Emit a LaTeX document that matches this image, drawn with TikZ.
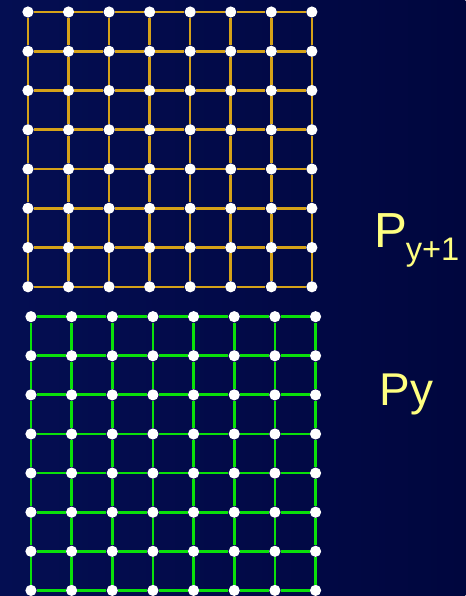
\documentclass[tikz,border=0pt]{standalone}
\usepackage{fontspec}
\setmainfont{Liberation Sans}
\definecolor{navyleft}{RGB}{4,14,82}
\definecolor{navyright}{RGB}{0,6,62}
\definecolor{gridgold}{RGB}{214,162,24}
\definecolor{gridgreen}{RGB}{10,225,10}
\definecolor{labelyellow}{RGB}{255,255,128}
\tikzset{
  dot/.style={circle,fill=white,inner sep=0pt,minimum size=8.4pt},
  goldline/.style={draw=gridgold,line width=1.9pt},
  greenline/.style={draw=gridgreen,line width=2.1pt},
  lbl/.style={text=labelyellow,inner sep=0pt,anchor=base west}
}
\begin{document}
\begin{tikzpicture}[x=0.75pt,y=0.75pt,yscale=-1,xscale=1]
	% background
	\fill[left color=navyleft,right color=navyright] (0,0) rectangle (466,596);

	% upper lattice P_{y+1}
	\foreach \i in {0,...,7}
		\foreach \j in {0,...,7}
			\node[dot] (t-\i-\j) at ({28+40.6*\i},{12+39.3*\j}) {};
	\foreach \i in {0,...,7}
		\foreach \j [count=\k from 1] in {0,...,6} {
			\draw[goldline] (t-\i-\j) -- (t-\i-\k);
			\draw[goldline] (t-\j-\i) -- (t-\k-\i);
		}

	% lower lattice P_y
	\foreach \i in {0,...,7}
		\foreach \j in {0,...,7}
			\node[dot] (b-\i-\j) at ({31+40.7*\i},{317+39.15*\j}) {};
	\foreach \i in {0,...,7}
		\foreach \j [count=\k from 1] in {0,...,6} {
			\draw[greenline] (b-\i-\j) -- (b-\i-\k);
			\draw[greenline] (b-\j-\i) -- (b-\k-\i);
		}

	% labels
	\node[lbl,font=\fontsize{37}{40}\selectfont] (pup) at (375,248) {P};
	\node[lbl,font=\fontsize{24.5}{28}\selectfont] (pupsub) at (406,261) {y+1};
	\node[lbl,font=\fontsize{34.5}{38}\selectfont] (plow) at (380,406) {Py};
\end{tikzpicture}
\end{document}
